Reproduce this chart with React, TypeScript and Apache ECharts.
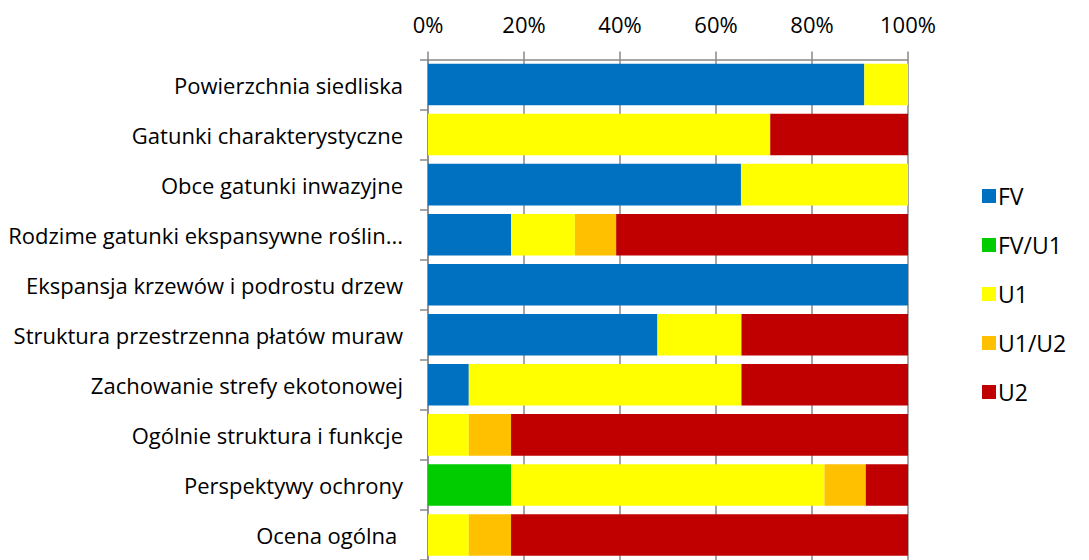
import React, { useEffect, useRef } from "react";
import * as echarts from "echarts";

const categories = [
  "Powierzchnia siedliska",
  "Gatunki charakterystyczne",
  "Obce gatunki inwazyjne",
  "Rodzime gatunki ekspansywne roślin...",
  "Ekspansja krzewów i podrostu drzew",
  "Struktura przestrzenna płatów muraw",
  "Zachowanie strefy ekotonowej",
  "Ogólnie struktura i funkcje",
  "Perspektywy ochrony",
  "Ocena ogólna ",
];

const seriesNames = ["FV", "FV/U1", "U1", "U1/U2", "U2"];
const fvValues = [90.9, 0, 65.2, 17.3, 100, 47.8, 8.5, 0, 0, 0];
const fvU1Values = [0, 0, 0, 0, 0, 0, 0, 0, 17.3, 0];
const u1Values = [9.1, 71.3, 34.8, 13.3, 0, 17.5, 56.8, 8.5, 65.3, 8.5];
const u1U2Values = [0, 0, 0, 8.6, 0, 0, 0, 8.8, 8.6, 8.8];
const u2Values = [0, 28.7, 0, 60.8, 0, 34.7, 34.7, 82.7, 8.8, 82.7];
const colors = ["#0070C0", "#00CC00", "#FFFF00", "#FFC000", "#C00000"];

const FONT = "Open Sans";

export default function App() {
  const ref = useRef<HTMLDivElement>(null);
  useEffect(() => {
    if (!ref.current) return;
    const chart = echarts.init(ref.current, null, { renderer: "svg" });
    const allValues = [fvValues, fvU1Values, u1Values, u1U2Values, u2Values];
    chart.setOption({
      animation: false,
      backgroundColor: "#ffffff",
      grid: { left: 428, top: 59.5, width: 480, height: 505.5 },
      legend: {
        orient: "vertical",
        left: 977,
        top: 179,
        icon: "rect",
        itemWidth: 14,
        itemHeight: 14,
        itemGap: 25,
        data: seriesNames,
        textStyle: { fontFamily: FONT, fontSize: 23, color: "#000", lineHeight: 24, padding: [0, 0, 0, -3] },
      },
      xAxis: {
        type: "value",
        position: "top",
        min: 0,
        max: 100,
        interval: 20,
        axisLine: { show: true, lineStyle: { color: "#888888", width: 1.5 } },
        axisTick: { show: true, length: 8, lineStyle: { color: "#888888", width: 1.5 } },
        axisLabel: { formatter: "{value}%", fontFamily: FONT, fontSize: 22, color: "#000", margin: 25 },
        splitLine: { show: true, lineStyle: { color: "#888888", width: 1.5 } },
      },
      yAxis: {
        type: "category",
        inverse: true,
        data: categories,
        axisLine: { show: true, lineStyle: { color: "#888888", width: 1.5 } },
        axisTick: { show: true, length: 8, lineStyle: { color: "#888888", width: 1.5 } },
        axisLabel: { fontFamily: FONT, fontSize: 22, color: "#000", margin: 25 },
      },
      series: seriesNames.map((name, i) => ({
        name,
        type: "bar",
        stack: "total",
        barCategoryGap: "17%",
        itemStyle: { color: colors[i] },
        data: allValues[i],
      })),
    });
    return () => chart.dispose();
  }, []);
  return (
    <div
      ref={ref}
      style={{ position: "absolute", left: 0, top: 0, width: 1089, height: 560 }}
    />
  );
}
